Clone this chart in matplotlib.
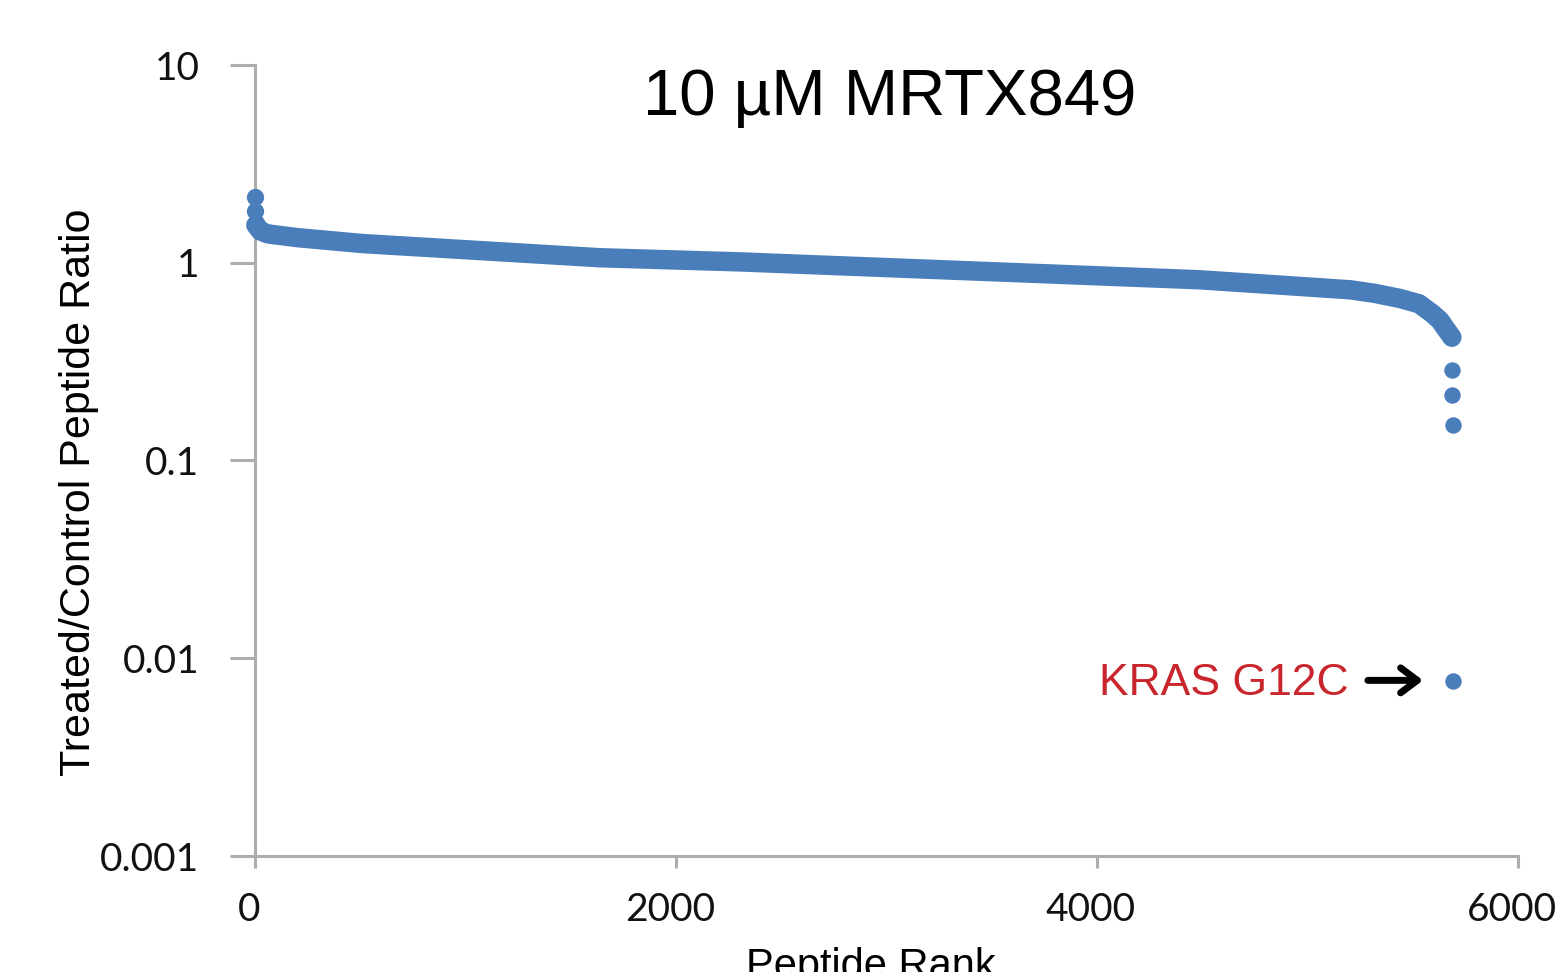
import matplotlib
matplotlib.use("Agg")
import matplotlib.pyplot as plt
import matplotlib.transforms as mtransforms

# ---- data ----
curve_rank = [4, 25, 60, 200, 513, 1639, 2304, 4489, 5202, 5320, 5439, 5530, 5596, 5630, 5653, 5686]
curve_ratio = [1.55, 1.45, 1.40, 1.34, 1.25, 1.06, 1.01, 0.82, 0.73, 0.70, 0.66, 0.62, 0.55, 0.51, 0.47, 0.42]
top_rank = [1, 2, 3]
top_ratio = [2.14, 1.82, 1.58]
tail_rank = [5687, 5688, 5689]
tail_ratio = [0.286, 0.214, 0.152]
kras_rank = [5690]
kras_ratio = [0.0077]

x_ticks = [0, 2000, 4000, 6000]
x_ticklabels = ["0", "2000", "4000", "6000"]
y_ticks = [0.001, 0.01, 0.1, 1, 10]
y_ticklabels = ["0.001", "0.01", "0.1", "1", "10"]

title = "10 µM MRTX849"
xlabel = "Peptide Rank"
ylabel = "Treated/Control Peptide Ratio"
annot = "KRAS G12C"

BLUE = "#4A7EBB"
RED = "#C9252C"
GRAY = "#ADADAD"
W, H = 1565, 972

fig = plt.figure(figsize=(W / 100, H / 100), dpi=100)
ax = fig.add_axes([255 / W, 1 - 856 / H, (1518 - 255) / W, (856 - 65) / H])

ax.plot(curve_rank, curve_ratio, color=BLUE, lw=14, solid_capstyle="round",
        solid_joinstyle="round", zorder=3, clip_on=False)
ax.scatter(top_rank, top_ratio, s=155, color=BLUE, zorder=4, clip_on=False, linewidths=0)
ax.scatter(tail_rank, tail_ratio, s=140, color=BLUE, zorder=4, clip_on=False, linewidths=0)
ax.scatter(kras_rank, kras_ratio, s=140, color=BLUE, zorder=4, clip_on=False, linewidths=0)

ax.set_yscale("log")
ax.set_xlim(0, 6000)
ax.set_ylim(0.001, 10)
ax.set_xticks(x_ticks)
ax.set_xticklabels(x_ticklabels)
ax.set_yticks(y_ticks)
ax.set_yticklabels(y_ticklabels)
ax.minorticks_off()

for s in ["top", "right"]:
    ax.spines[s].set_visible(False)
for s in ["left", "bottom"]:
    ax.spines[s].set_color(GRAY)
    ax.spines[s].set_linewidth(2.2)

ax.tick_params(axis="y", direction="out", length=18, width=2.2, color=GRAY, pad=22,
               labelsize=28, labelcolor="#111111")
ax.tick_params(axis="x", direction="out", length=8.6, width=2.2, color=GRAY, pad=17,
               labelsize=28, labelcolor="#111111")
for lab in ax.get_xticklabels() + ax.get_yticklabels():
    lab.set_fontfamily("Lato")
offset = mtransforms.ScaledTranslation(-6 / 100, 0, fig.dpi_scale_trans)
for lab in ax.get_xticklabels():
    lab.set_transform(lab.get_transform() + offset)

# title
fig.text(890 / W, 1 - 115 / H, title, ha="center", va="baseline",
         fontsize=47, family="Liberation Sans")
# axis labels
fig.text(871 / W, 1 - 978 / H, xlabel, ha="center", va="baseline",
         fontsize=30, family="Liberation Sans")
fig.text(79 / W, 1 - 492 / H, ylabel, ha="center", va="center", rotation=90,
         fontsize=31, family="Liberation Sans")

# annotation
ax.text(5193, 0.00649, annot, ha="right", va="baseline", color=RED,
        fontsize=32, family="Liberation Sans")
ax.annotate("", xy=(5549, 0.00773), xytext=(5287, 0.00773),
            arrowprops=dict(arrowstyle="->,head_length=0.6,head_width=0.45",
                            color="black", lw=5, mutation_scale=20,
                            capstyle="round", joinstyle="round",
                            shrinkA=0, shrinkB=0))

fig.savefig("out.png", dpi=100)
